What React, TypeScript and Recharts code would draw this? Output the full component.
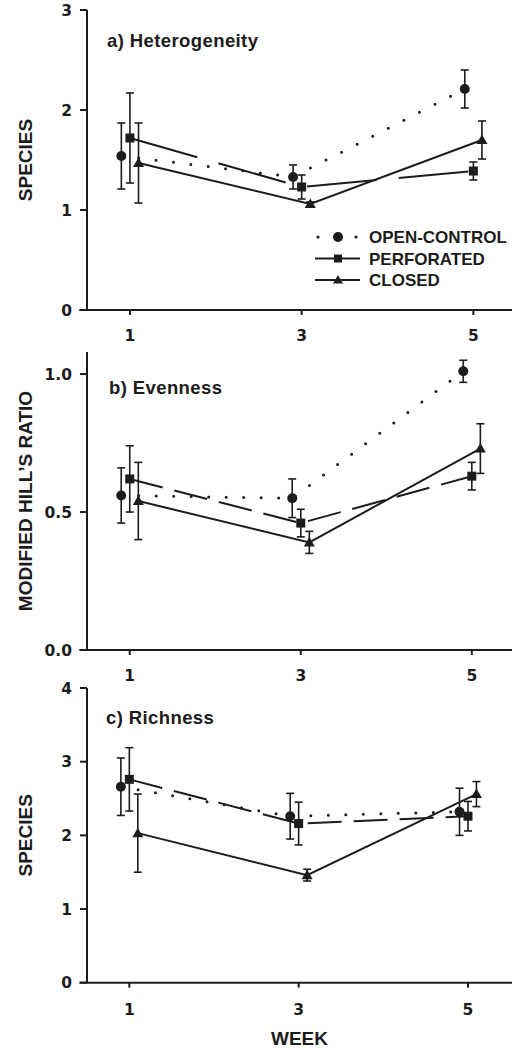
import React from "react";
import { LineChart, Line, XAxis, YAxis, ErrorBar, ReferenceLine } from "recharts";

// sampling weeks and tick labels
const weeks = [1, 3, 5];
const weekTicks = [1, 3, 5];

// a) Heterogeneity (species)
const openHet = [1.54, 1.33, 2.21];
const openHetErr = [0.33, 0.12, 0.19];
const perfHet = [1.72, 1.23, 1.39];
const perfHetErr = [0.45, 0.12, 0.09];
const closedHet = [1.47, 1.06, 1.7];
const closedHetErr = [0.4, 0.02, 0.19];

// b) Evenness (modified Hill's ratio)
const openEven = [0.56, 0.55, 1.01];
const openEvenErr = [0.1, 0.07, 0.04];
const perfEven = [0.62, 0.46, 0.63];
const perfEvenErr = [0.12, 0.05, 0.05];
const closedEven = [0.54, 0.39, 0.73];
const closedEvenErr = [0.14, 0.04, 0.09];

// c) Richness (species)
const openRich = [2.66, 2.26, 2.32];
const openRichErr = [0.39, 0.31, 0.32];
const perfRich = [2.76, 2.16, 2.26];
const perfRichErr = [0.43, 0.29, 0.2];
const closedRich = [2.03, 1.46, 2.56];
const closedRichErr = [0.53, 0.08, 0.17];

const legendLabels = ["OPEN-CONTROL", "PERFORATED", "CLOSED"];

const INK = "#1c1c1c";
const DODGE = 0.1; // horizontal offset so the error bars don't overlap
const TICK_FONT = { fill: INK, fontSize: 15.5, fontFamily: "DejaVu Sans", fontWeight: 700 };
const LABEL_FONT = "'Liberation Sans', Arial, sans-serif";

type Row = { x: number; y: number; err: number };
const rows = (vals: number[], errs: number[], shift: number): Row[] =>
  weeks.map((w, i) => ({ x: w + shift, y: vals[i], err: errs[i] }));

const CircleDot = (p: any) => <circle key={p.key} cx={p.cx} cy={p.cy} r={5} fill={INK} />;
const SquareDot = (p: any) => (
  <rect key={p.key} x={p.cx - 4.5} y={p.cy - 4.5} width={9} height={9} fill={INK} />
);
const TriangleDot = (p: any) => (
  <path
    key={p.key}
    d={`M${p.cx},${p.cy - 5.5}L${p.cx + 5.5},${p.cy + 4}L${p.cx - 5.5},${p.cy + 4}Z`}
    fill={INK}
  />
);

type PanelProps = {
  top: number;
  height: number;
  marginTop: number;
  xAxisHeight: number;
  xMax: number;
  tickMargin: number;
  yDomain: [number, number];
  yTicks: number[];
  yFormat: (v: number) => string;
  yLabel: string;
  xLabel?: string;
  open: Row[];
  perf: Row[];
  closed: Row[];
  perfDash: string;
};

const Panel: React.FC<PanelProps> = (p) => (
  <div style={{ position: "absolute", left: 0, top: p.top }}>
    <LineChart width={520} height={p.height} margin={{ top: p.marginTop, right: 8, bottom: 0, left: 0 }}>
      <XAxis
        type="number"
        dataKey="x"
        domain={[0.5, p.xMax]}
        ticks={weekTicks}
        allowDataOverflow
        height={p.xAxisHeight}
        axisLine={{ stroke: INK, strokeWidth: 2 }}
        tickLine={{ stroke: INK, strokeWidth: 2 }}
        tickSize={5}
        tickMargin={p.tickMargin}
        tick={TICK_FONT}
        label={
          p.xLabel
            ? { value: p.xLabel, position: "insideBottom", offset: 5, fill: INK, fontSize: 19, fontWeight: 700, fontFamily: LABEL_FONT }
            : undefined
        }
      />
      <YAxis
        type="number"
        domain={p.yDomain}
        ticks={p.yTicks}
        allowDataOverflow
        width={87}
        tickFormatter={p.yFormat}
        axisLine={{ stroke: INK, strokeWidth: 2 }}
        tickLine={{ stroke: INK, strokeWidth: 2 }}
        tickSize={7}
        tickMargin={8}
        tick={TICK_FONT}
        label={{
          value: p.yLabel,
          angle: -90,
          position: "insideLeft",
          offset: 25,
          fill: INK,
          fontSize: 19,
          fontWeight: 700,
          fontFamily: LABEL_FONT,
          style: { textAnchor: "middle" },
        }}
      />
      {/* x axis line runs a little past the y axis, as in the original */}
      <ReferenceLine
        segment={[{ x: 0.41, y: p.yDomain[0] }, { x: 0.5, y: p.yDomain[0] }]}
        stroke={INK}
        strokeWidth={2}
        ifOverflow="visible"
      />
      <Line
        data={p.closed}
        dataKey="y"
        stroke={INK}
        strokeWidth={2}
        dot={TriangleDot}
        isAnimationActive={false}
      >
        <ErrorBar dataKey="err" width={4} stroke={INK} strokeWidth={1.6} direction="y" />
      </Line>
      <Line
        data={p.perf}
        dataKey="y"
        stroke={INK}
        strokeWidth={2}
        strokeDasharray={p.perfDash}
        dot={SquareDot}
        isAnimationActive={false}
      >
        <ErrorBar dataKey="err" width={4} stroke={INK} strokeWidth={1.6} direction="y" />
      </Line>
      <Line
        data={p.open}
        dataKey="y"
        stroke={INK}
        strokeWidth={3}
        strokeDasharray="0 17.5"
        strokeLinecap="round"
        dot={CircleDot}
        isAnimationActive={false}
      >
        <ErrorBar dataKey="err" width={4} stroke={INK} strokeWidth={1.6} direction="y" />
      </Line>
    </LineChart>
  </div>
);

const Overlay: React.FC = () => {
  const rowsY = [237, 258.5, 280];
  const titleStyle = { fontFamily: LABEL_FONT, fontWeight: 700, fontSize: 18.5, letterSpacing: 0.4, fill: INK };
  return (
    <svg width={520} height={1050} style={{ position: "absolute", left: 0, top: 0, pointerEvents: "none" }}>
      <text x={107} y={47} {...titleStyle}>a) Heterogeneity</text>
      <text x={109} y={394} {...titleStyle}>b) Evenness</text>
      <text x={106} y={724} {...titleStyle}>c) Richness</text>
      {legendLabels.map((label, i) => {
        const cy = rowsY[i];
        return (
          <g key={label}>
            {i === 0 ? (
              <>
                <circle cx={318} cy={cy} r={1.6} fill={INK} />
                <circle cx={338} cy={cy} r={5} fill={INK} />
                <circle cx={356} cy={cy} r={1.6} fill={INK} />
              </>
            ) : (
              <>
                <line x1={315} x2={360} y1={cy} y2={cy} stroke={INK} strokeWidth={2} />
                {i === 1 ? (
                  <rect x={334} y={cy - 4} width={8} height={8} fill={INK} />
                ) : (
                  <path d={`M338,${cy - 5}L343,${cy + 3.5}L333,${cy + 3.5}Z`} fill={INK} />
                )}
              </>
            )}
            <text x={369} y={cy + 6} fontFamily={LABEL_FONT} fontWeight={700} fontSize={17} fill={INK}>
              {label}
            </text>
          </g>
        );
      })}
    </svg>
  );
};

export default function App() {
  const plain = (v: number) => String(v);
  return (
    <div style={{ position: "absolute", left: 0, top: 0, width: 520, height: 1050, background: "#fff" }}>
      <Panel
        top={0}
        height={350}
        marginTop={10}
        xAxisHeight={40}
        xMax={5.45}
        tickMargin={14.5}
        yDomain={[0, 3]}
        yTicks={[0, 1, 2, 3]}
        yFormat={plain}
        yLabel="SPECIES"
        open={rows(openHet, openHetErr, -DODGE)}
        perf={rows(perfHet, perfHetErr, 0)}
        closed={rows(closedHet, closedHetErr, DODGE)}
        perfDash="70 22"
      />
      <Panel
        top={340}
        height={350}
        marginTop={12}
        xAxisHeight={40}
        xMax={5.47}
        tickMargin={15}
        yDomain={[0, 1.08]}
        yTicks={[0, 0.5, 1]}
        yFormat={(v) => v.toFixed(1)}
        yLabel="MODIFIED HILL’S RATIO"
        open={rows(openEven, openEvenErr, -DODGE)}
        perf={rows(perfEven, perfEvenErr, 0)}
        closed={rows(closedEven, closedEvenErr, DODGE)}
        perfDash="34 12"
      />
      <Panel
        top={670}
        height={380}
        marginTop={18}
        xAxisHeight={67.3}
        xMax={5.52}
        tickMargin={16}
        yDomain={[0, 4]}
        yTicks={[0, 1, 2, 3, 4]}
        yFormat={plain}
        yLabel="SPECIES"
        xLabel="WEEK"
        open={rows(openRich, openRichErr, -DODGE)}
        perf={rows(perfRich, perfRichErr, 0)}
        closed={rows(closedRich, closedRichErr, DODGE)}
        perfDash="34 12"
      />
      <Overlay />
    </div>
  );
}
